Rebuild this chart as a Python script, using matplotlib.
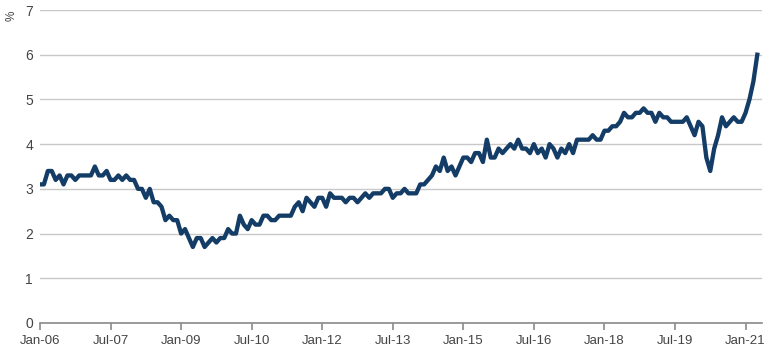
import numpy as np
import pandas as pd
import matplotlib
matplotlib.use("Agg")
import matplotlib.pyplot as plt

# ----------------------------------------------------------
# Data (monthly, Jan-06 .. Apr-21)
# ----------------------------------------------------------

values = [
    3.1, 3.1, 3.4, 3.4, 3.2, 3.3, 3.1, 3.3, 3.3, 3.2, 3.3, 3.3,   # 2006
    3.3, 3.3, 3.5, 3.3, 3.3, 3.4, 3.2, 3.2, 3.3, 3.2, 3.3, 3.2,   # 2007
    3.2, 3.0, 3.0, 2.8, 3.0, 2.7, 2.7, 2.6, 2.3, 2.4, 2.3, 2.3,   # 2008
    2.0, 2.1, 1.9, 1.7, 1.9, 1.9, 1.7, 1.8, 1.9, 1.8, 1.9, 1.9,   # 2009
    2.1, 2.0, 2.0, 2.4, 2.2, 2.1, 2.3, 2.2, 2.2, 2.4, 2.4, 2.3,   # 2010
    2.3, 2.4, 2.4, 2.4, 2.4, 2.6, 2.7, 2.5, 2.8, 2.7, 2.6, 2.8,   # 2011
    2.8, 2.6, 2.9, 2.8, 2.8, 2.8, 2.7, 2.8, 2.8, 2.7, 2.8, 2.9,   # 2012
    2.8, 2.9, 2.9, 2.9, 3.0, 3.0, 2.8, 2.9, 2.9, 3.0, 2.9, 2.9,   # 2013
    2.9, 3.1, 3.1, 3.2, 3.3, 3.5, 3.4, 3.7, 3.4, 3.5, 3.3, 3.5,   # 2014
    3.7, 3.7, 3.6, 3.8, 3.8, 3.6, 4.1, 3.7, 3.7, 3.9, 3.8, 3.9,   # 2015
    4.0, 3.9, 4.1, 3.9, 3.9, 3.8, 4.0, 3.8, 3.9, 3.7, 4.0, 3.9,   # 2016
    3.7, 3.9, 3.8, 4.0, 3.8, 4.1, 4.1, 4.1, 4.1, 4.2, 4.1, 4.1,   # 2017
    4.3, 4.3, 4.4, 4.4, 4.5, 4.7, 4.6, 4.6, 4.7, 4.7, 4.8, 4.7,   # 2018
    4.7, 4.5, 4.7, 4.6, 4.6, 4.5, 4.5, 4.5, 4.5, 4.6, 4.4, 4.2,   # 2019
    4.5, 4.4, 3.7, 3.4, 3.9, 4.2, 4.6, 4.4, 4.5, 4.6, 4.5, 4.5,   # 2020
    4.7, 5.0, 5.4, 6.0,                                           # 2021
]

dates = pd.date_range("2006-01-01", periods=len(values), freq="MS")

tick_labels = [
    "Jan-06", "Jul-07", "Jan-09", "Jul-10", "Jan-12", "Jul-13",
    "Jan-15", "Jul-16", "Jan-18", "Jul-19", "Jan-21",
]

y_ticks = [0, 1, 2, 3, 4, 5, 6, 7]

# ----------------------------------------------------------
# Plot
# ----------------------------------------------------------

plt.rcParams["font.family"] = ["Liberation Sans", "DejaVu Sans"]

fig = plt.figure(figsize=(7.7, 3.54), dpi=100)
ax = fig.add_axes([40 / 770, 1 - 323 / 354, 722 / 770, 313 / 354])

x = np.arange(len(values))
ax.plot(x, values, color="#133c66", linewidth=3.1, solid_joinstyle="round")

ax.set_xlim(0, 184.2)
ax.set_ylim(0, 7)

ax.set_yticks(y_ticks)
ax.set_xticks(range(0, 181, 18))
ax.set_xticklabels(tick_labels)

ax.grid(axis="y", color="#c8c8c8", linewidth=1.0)
ax.set_axisbelow(True)

for side in ["left", "right", "top"]:
    ax.spines[side].set_visible(False)
ax.spines["bottom"].set_color("#8a8a8a")
ax.spines["bottom"].set_linewidth(1.2)

ax.tick_params(axis="x", colors="#8a8a8a", length=5, width=1.2,
               labelcolor="#444444", labelsize=9.5, pad=4)
ax.tick_params(axis="y", length=0, labelcolor="#444444", labelsize=10, pad=5)

fig.text(12 / 770, 1 - 16 / 354, "%", rotation=90, ha="center", va="center",
         fontsize=8.5, color="#444444")

fig.savefig("out.png", dpi=100)
plt.close(fig)
